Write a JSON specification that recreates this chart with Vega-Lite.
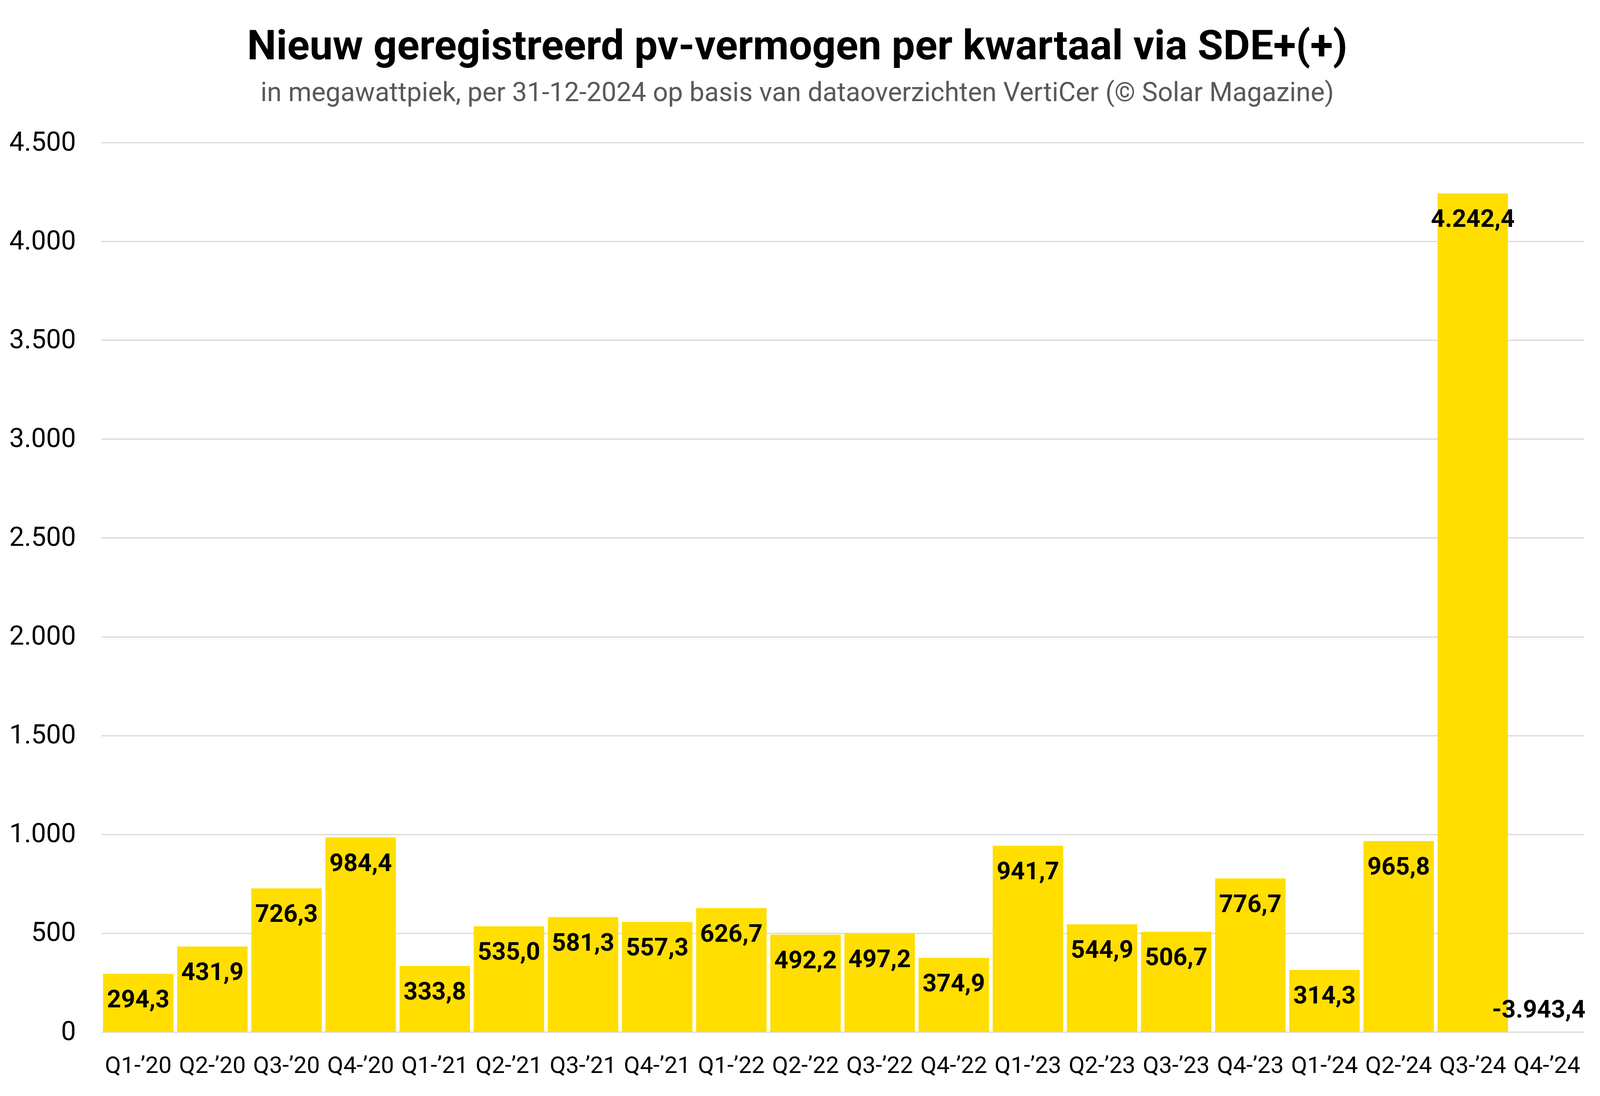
{
  "$schema": "https://vega.github.io/schema/vega-lite/v6.json",
  "autosize": {"type": "fit", "contains": "padding"},
  "width": "container",
  "height": 2807,
  "padding": {"left": 23, "top": 67, "right": 41, "bottom": 48},
  "background": "white",
  "config": {
    "locale": {"number": {"decimal": ",", "thousands": ".", "grouping": [3], "currency": ["€", ""], "minus": "-"}},
    "font": "Roboto",
    "view": {"stroke": null}
  },
  "title": {
    "text": "Nieuw geregistreerd pv-vermogen per kwartaal via SDE+(+)",
    "subtitle": "in megawattpiek, per 31-12-2024 op basis van dataoverzichten VertiCer (© Solar Magazine)",
    "anchor": "middle",
    "frame": "bounds",
    "font": "Roboto",
    "fontSize": 106,
    "fontWeight": "bold",
    "color": "#000000",
    "subtitleFont": "Roboto",
    "subtitleFontSize": 68,
    "subtitleColor": "#595959",
    "subtitlePadding": 31,
    "offset": 57
  },
  "data": {
    "values": [
      {"kwartaal": "Q1-’20", "mwp": 294.3},
      {"kwartaal": "Q2-’20", "mwp": 431.9},
      {"kwartaal": "Q3-’20", "mwp": 726.3},
      {"kwartaal": "Q4-’20", "mwp": 984.4},
      {"kwartaal": "Q1-’21", "mwp": 333.8},
      {"kwartaal": "Q2-’21", "mwp": 535.0},
      {"kwartaal": "Q3-’21", "mwp": 581.3},
      {"kwartaal": "Q4-’21", "mwp": 557.3},
      {"kwartaal": "Q1-’22", "mwp": 626.7},
      {"kwartaal": "Q2-’22", "mwp": 492.2},
      {"kwartaal": "Q3-’22", "mwp": 497.2},
      {"kwartaal": "Q4-’22", "mwp": 374.9},
      {"kwartaal": "Q1-’23", "mwp": 941.7},
      {"kwartaal": "Q2-’23", "mwp": 544.9},
      {"kwartaal": "Q3-’23", "mwp": 506.7},
      {"kwartaal": "Q4-’23", "mwp": 776.7},
      {"kwartaal": "Q1-’24", "mwp": 314.3},
      {"kwartaal": "Q2-’24", "mwp": 965.8},
      {"kwartaal": "Q3-’24", "mwp": 4242.4},
      {"kwartaal": "Q4-’24", "mwp": -3943.4}
    ]
  },
  "encoding": {
    "x": {
      "field": "kwartaal",
      "type": "nominal",
      "sort": null,
      "scale": {"paddingInner": 0.05, "paddingOuter": 0.025},
      "axis": {
        "title": null,
        "labelAngle": 0,
        "labelFont": "Roboto",
        "labelFontSize": 60,
        "labelColor": "#000000",
        "labelPadding": 57,
        "labelLimit": 0,
        "ticks": false,
        "domain": false
      }
    },
    "y": {
      "field": "mwp",
      "type": "quantitative",
      "scale": {"domain": [0, 4500], "nice": false, "clamp": true, "zero": true},
      "axis": {
        "title": null,
        "values": [0, 500, 1000, 1500, 2000, 2500, 3000, 3500, 4000, 4500],
        "format": ",d",
        "labelFont": "Roboto",
        "labelFontSize": 68,
        "labelColor": "#000000",
        "labelPadding": 65,
        "labelLimit": 0,
        "ticks": false,
        "domain": false,
        "grid": true,
        "gridColor": "#d9d9d9",
        "gridWidth": 3
      }
    }
  },
  "layer": [
    {
      "mark": {"type": "bar", "color": "#FFDE00"}
    },
    {
      "transform": [{"filter": "datum.mwp >= 0"}],
      "mark": {"type": "text", "font": "Roboto", "fontWeight": "bold", "fontSize": 63, "color": "#000000", "baseline": "middle", "dy": 67},
      "encoding": {
        "text": {"field": "mwp", "type": "quantitative", "format": ",.1f"}
      }
    },
    {
      "transform": [{"filter": "datum.mwp < 0"}],
      "mark": {"type": "text", "font": "Roboto", "fontWeight": "bold", "fontSize": 63, "color": "#000000", "baseline": "middle", "dy": -56, "dx": -21},
      "encoding": {
        "text": {"field": "mwp", "type": "quantitative", "format": ",.1f"}
      }
    }
  ]
}
